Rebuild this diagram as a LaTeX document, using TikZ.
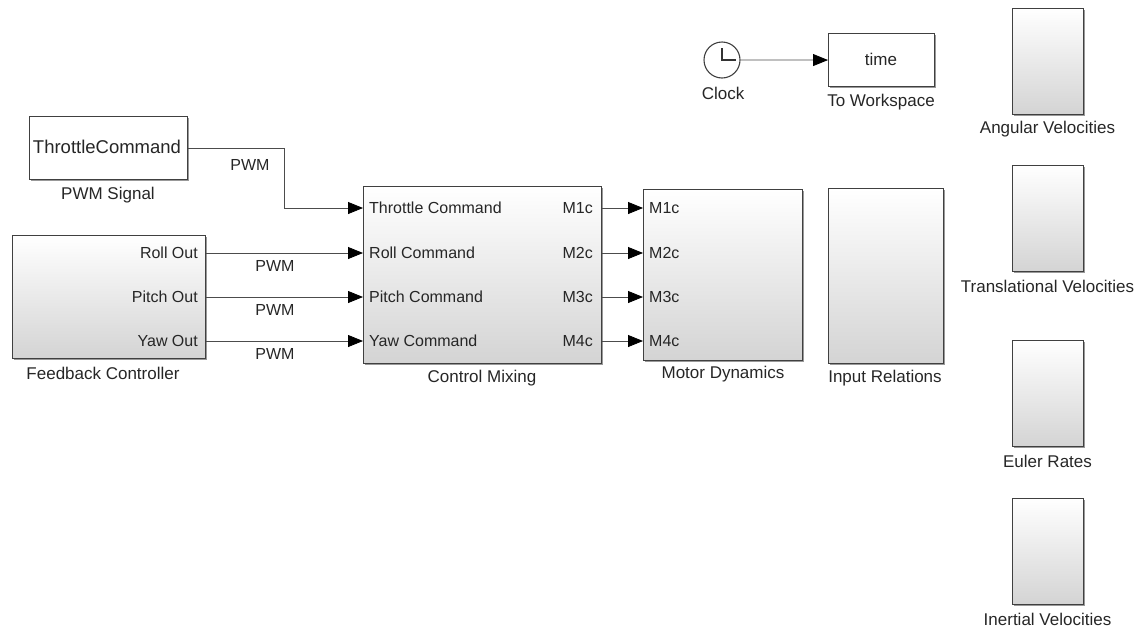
\documentclass[tikz,border=0pt]{standalone}
\usepackage{fontspec}
\setmainfont{Liberation Sans}
\usetikzlibrary{arrows.meta,shadows}

\begin{document}
\begin{tikzpicture}[x=1pt,y=-1pt,
  every node/.style={font=\fontsize{17}{20}\selectfont,text=black!85},
  box/.style={draw=black!75,line width=1.1pt,inner sep=0pt,anchor=north west,
    drop shadow={shadow xshift=1.3pt,shadow yshift=-1.3pt,fill=black!40,opacity=1}},
  blk/.style={box,top color=white,middle color=white,bottom color=black!17},
  wblk/.style={box,fill=white},
  sig/.style={draw=black!70,line width=0.8pt,-{Triangle[length=15pt,width=12pt,color=black]}},
  port/.style={inner sep=0pt,font=\fontsize{16}{19}\selectfont}]
\useasboundingbox (0,0) rectangle (1142,627);

\node[wblk,minimum width=158pt,minimum height=63pt] (pwmsig) at (29,116) {};
\node[font=\fontsize{18.5}{22}\selectfont] (thr) at (107,147) {ThrottleCommand};
\node (pwmsiglbl) at (108,195) {PWM Signal};

\node[blk,minimum width=193pt,minimum height=123pt] (fb) at (12,235) {};
\node (fblbl) at (103,373) {Feedback Controller};

\node[blk,minimum width=238pt,minimum height=177pt] (mix) at (363,186) {};
\node (mixlbl) at (482,378) {Control Mixing};

\node[blk,minimum width=159pt,minimum height=171pt] (motor) at (643,189) {};
\node (motorlbl) at (723,374) {Motor Dynamics};

\node[blk,minimum width=115pt,minimum height=175pt] (inrel) at (828,188) {};
\node (inrellbl) at (885,378) {Input Relations};

\foreach \i/\y/\nm in {1/208/Throttle,2/253/Roll,3/297/Pitch,4/341/Yaw} {
  \node[port,anchor=west] (min\i) at (369,\y) {\nm{} Command};
  \node[port,anchor=east] (mout\i) at (593,\y) {M\i c};
  \node[port,anchor=west] (mdin\i) at (649,\y) {M\i c};
  \draw[sig] (mix.east |- mout\i) -- (motor.west |- mdin\i);
}

\foreach \i/\y/\nm in {2/253/Roll,3/297/Pitch,4/341/Yaw} {
  \node[port,anchor=east] (fbo\i) at (198,\y) {\nm{} Out};
  \node[port] (pwm\i) at (275,\y+13) {PWM};
  \draw[sig] (fb.east |- fbo\i) -- (mix.west |- min\i);
}

\node[port] (pwm1) at (250,165) {PWM};
\draw[sig] (pwmsig.east) -- ++(96,0) |- (mix.west |- min1);

\node[draw=black!75,line width=1.1pt,circle,minimum size=36pt,fill=white] (clk) at (722,60) {};
\draw[black!80,line width=1.1pt] ([yshift=12pt]clk.center) -- (clk.center) -- ([xshift=14pt]clk.center);
\node (clklbl) at (723,93) {Clock};

\node[wblk,minimum width=106pt,minimum height=53pt] (tows) at (828,33) {};
\node (time) at (881,59) {time};
\node (towslbl) at (881,102) {To Workspace};
\draw[sig] (clk.east) -- (tows.west);

\foreach \n/\y/\t in {ang/8/Angular Velocities,tr/165/Translational Velocities,eu/340/Euler Rates,in/498/Inertial Velocities} {
  \node[blk,minimum width=71pt,minimum height=106pt] (sc\n) at (1012,\y) {};
  \node (lbl\n) at (1047.5,\y+121) {\t};
}
\end{tikzpicture}
\end{document}
